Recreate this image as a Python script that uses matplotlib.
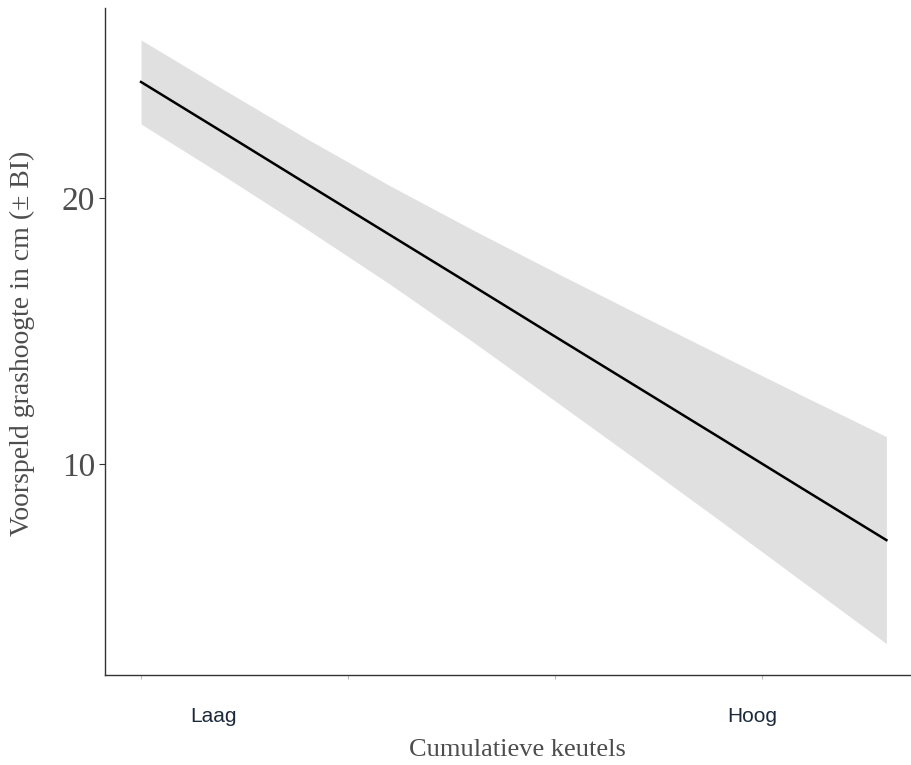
import matplotlib
matplotlib.use("Agg")
import matplotlib.pyplot as plt
import matplotlib.transforms as mtransforms
import numpy as np

# predicted grass height along the cumulative droppings gradient
keutels = [0, 2, 4, 6, 8, 10, 12, 14, 16, 18]
voorspeld = [24.36, 22.45, 20.53, 18.62, 16.71, 14.79, 12.88, 10.97, 9.05, 7.14]
bi_onder = [22.78, 20.83, 18.83, 16.77, 14.61, 12.37, 10.12, 7.85, 5.55, 3.25]
bi_boven = [25.94, 24.07, 22.23, 20.47, 18.81, 17.21, 15.64, 14.09, 12.55, 11.03]

x_ticks = [0, 5, 10, 15]
y_ticks = [10, 20]
klassen = ["Laag", "Hoog"]
klasse_pos = [1.74, 14.76]

W, H = 912, 765
fig = plt.figure(figsize=(W / 100, H / 100), dpi=100)
ax = fig.add_axes([105 / W, (H - 675) / H, (910 - 105) / W, (675 - 8) / H])

ax.fill_between(keutels, bi_onder, bi_boven, color="#e0e0e0", linewidth=0)
ax.plot(keutels, voorspeld, color="black", linewidth=1.8)

ax.set_xlim(-0.87, 18.57)
ax.set_ylim(2.07, 27.14)

for side in ["top", "right"]:
    ax.spines[side].set_visible(False)
for side in ["left", "bottom"]:
    ax.spines[side].set_color("#333333")
    ax.spines[side].set_linewidth(1.0)

ax.set_yticks(y_ticks)
ax.set_yticklabels([str(v) for v in y_ticks], family="Liberation Serif",
                   fontsize=24, color="#4d4d4d")
ax.tick_params(axis="y", length=4, width=0.8, color="#333333", pad=3)
ax.set_xticks(x_ticks)
ax.set_xticklabels([""] * len(x_ticks))
ax.tick_params(axis="x", length=3, width=0.8, color="#bbbbbb")

trans = mtransforms.blended_transform_factory(ax.transData, fig.transFigure)
for lab, xp in zip(klassen, klasse_pos):
    ax.text(xp, (H - 716) / H, lab, transform=trans, ha="center", va="center",
            family="Liberation Sans", fontsize=15, color="#1b2a3a")

fig.text(517 / W, (H - 750) / H, "Cumulatieve keutels", ha="center", va="center",
         family="Liberation Serif", fontsize=19, color="#4d4d4d")
fig.text(22 / W, (H - 343) / H, "Voorspeld grashoogte in cm (± BI)", ha="center",
         va="center", rotation=90, family="Liberation Serif", fontsize=20,
         color="#4d4d4d")

fig.savefig("out.png", dpi=100, facecolor="white")
